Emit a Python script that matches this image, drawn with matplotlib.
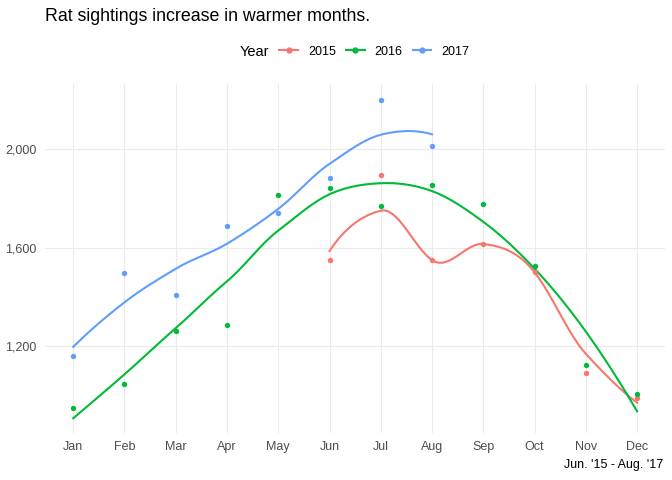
import numpy as np
import matplotlib
matplotlib.use('Agg')
import matplotlib.pyplot as plt
from matplotlib.ticker import FuncFormatter
from matplotlib.lines import Line2D

plt.rcParams['font.family'] = ['Liberation Sans', 'DejaVu Sans']

month_labels = ['Jan', 'Feb', 'Mar', 'Apr', 'May', 'Jun',
                'Jul', 'Aug', 'Sep', 'Oct', 'Nov', 'Dec']

# monthly rat sightings per year
months_2015 = [6, 7, 8, 9, 10, 11, 12]
sightings_2015 = [1549, 1894, 1549, 1615, 1500, 1089, 990]
months_2016 = [1, 2, 3, 4, 5, 6, 7, 8, 9, 10, 11, 12]
sightings_2016 = [947, 1044, 1261, 1284, 1813, 1841, 1768, 1854, 1776, 1524, 1122, 1004]
months_2017 = [1, 2, 3, 4, 5, 6, 7, 8]
sightings_2017 = [1158, 1496, 1406, 1687, 1740, 1882, 2199, 2012]

years = ['2015', '2016', '2017']
colors = ['#F8766D', '#00BA38', '#619CFF']


def local_fit(x, y, x0, q):
    # local quadratic, tricube weights -> value and slope at x0
    d = np.abs(x - x0)
    h = np.sort(d)[q - 1]
    u = np.clip(d / h, 0, 1)
    w = (1 - u ** 3) ** 3
    X = np.vstack([np.ones(len(x)), x - x0, (x - x0) ** 2]).T
    W = np.diag(w)
    beta = np.linalg.lstsq(X.T @ W @ X, X.T @ W @ y, rcond=None)[0]
    return beta[0], beta[1]


def split_points(pts, lo, hi, fc, cuts):
    # kd-tree cut points like R's loess (1-d), cut at the median point
    if len(pts) <= fc:
        return
    m = (1 + len(pts)) // 2
    v = pts[m - 1]
    if v == lo or v == hi:
        return
    cuts.append(v)
    split_points(pts[:m], lo, v, fc, cuts)
    split_points(pts[m:], v, hi, fc, cuts)


def loess(x, y, xs, span=0.75):
    x = np.asarray(x, float)
    y = np.asarray(y, float)
    n = len(x)
    q = int(np.floor(n * span))
    fc = max(1, int(np.floor(n * span * 0.2)))
    mu = 0.005 * (x.max() - x.min())
    lo, hi = x.min() - mu, x.max() + mu
    cuts = []
    split_points(np.sort(x), lo, hi, fc, cuts)
    verts = sorted([lo, hi] + cuts)
    vals = [local_fit(x, y, v, q) for v in verts]
    out = []
    for t in xs:
        i = min(np.searchsorted(verts, t, side='right') - 1, len(verts) - 2)
        a, b = verts[i], verts[i + 1]
        (fa, da), (fb, db) = vals[i], vals[i + 1]
        L = b - a
        s = (t - a) / L
        h00 = 2 * s ** 3 - 3 * s ** 2 + 1
        h10 = s ** 3 - 2 * s ** 2 + s
        h01 = -2 * s ** 3 + 3 * s ** 2
        h11 = s ** 3 - s ** 2
        out.append(h00 * fa + h10 * L * da + h01 * fb + h11 * L * db)
    return np.array(out)


fig = plt.figure(figsize=(6.72, 4.8), dpi=100)
ax = fig.add_axes([0.067, 0.098, 0.923, 0.727])

data = [(months_2015, sightings_2015), (months_2016, sightings_2016),
        (months_2017, sightings_2017)]
for (mx, sy), col in zip(data, colors):
    xs = np.linspace(min(mx), max(mx), 80)
    ax.plot(xs, loess(mx, sy, xs), color=col, lw=1.5, zorder=3)
    ax.scatter(mx, sy, color=col, s=15, zorder=4, linewidths=0)

ax.set_xlim(0.45, 12.55)
ax.set_ylim(846, 2266)
ax.set_xticks(range(1, 13))
ax.set_xticklabels(month_labels)
ax.set_yticks([1200, 1600, 2000])
ax.yaxis.set_major_formatter(FuncFormatter(lambda v, p: '{:,.0f}'.format(v)))
ax.grid(True, color='#EBEBEB', lw=0.8)
ax.set_axisbelow(True)
for s in ax.spines.values():
    s.set_visible(False)
ax.tick_params(length=0, labelsize=9, labelcolor='#4D4D4D', pad=6)

fig.text(0.067, 0.965, 'Rat sightings increase in warmer months.',
         fontsize=12.8, ha='left', va='center')
fig.text(0.357, 0.892, 'Year', fontsize=10.5, ha='left', va='center')
handles = [Line2D([], [], color=c, lw=1.5, marker='o', markersize=3.5) for c in colors]
fig.legend(handles, years, loc='center', bbox_to_anchor=(0.557, 0.892), ncol=3,
           frameon=False, fontsize=9, handlelength=1.5, handletextpad=0.8,
           columnspacing=0.8)
fig.text(0.987, 0.031, "Jun. '15 - Aug. '17", fontsize=9, ha='right', va='center')

fig.savefig('out.png', dpi=100)
